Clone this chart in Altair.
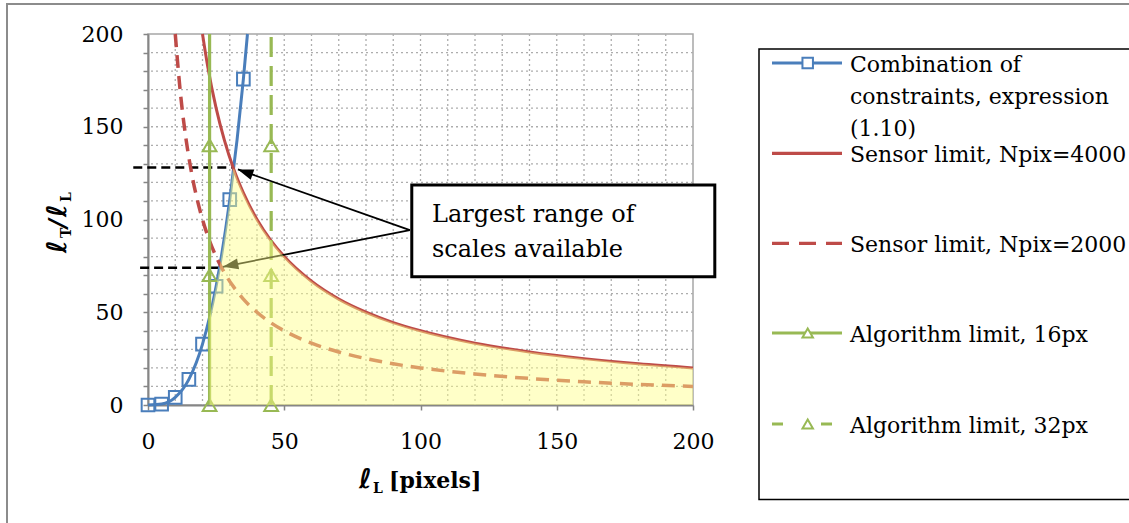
import math
import altair as alt
import pandas as pd

# ---- plot geometry (plot area in px, axis domains) ----
W, H = 545, 371
XMAX, YMAX = 200, 200
PAD = {"left": 148, "top": 34, "right": 436, "bottom": 118}

# ---- data ----
# Combination of constraints, expression (1.10)
comb_x = [0, 5, 10, 15, 20, 25, 30, 35, 36.5]
comb_y = [0, 0.5, 4.1, 13.8, 32.8, 64.0, 110.7, 175.7, 200]
comb_has_marker = [True, True, True, True, True, True, True, True, False]

# Sensor limit, Npix=4000
s4k_x = [20, 22, 25, 28, 31.4, 35, 40, 45, 50, 60, 70, 80, 90, 100, 120, 140, 160, 180, 200]
s4k_y = [200, 181.8, 160, 142.9, 127.3, 114.3, 100, 88.9, 80, 66.7, 57.1, 50, 44.4, 40,
         33.3, 28.6, 25, 22.2, 20]

# Sensor limit, Npix=2000
s2k_x = [10, 12, 14, 16, 18, 20, 22, 25, 28, 31, 35, 40, 45, 50, 60, 70, 80, 90, 100,
         120, 140, 160, 180, 200]
s2k_y = [200, 166.7, 142.9, 125, 111.1, 100, 90.9, 80, 71.4, 64.5, 57.1, 50, 44.4, 40,
         33.3, 28.6, 25, 22.2, 20, 16.7, 14.3, 12.5, 11.1, 10]

# Algorithm limits (vertical lines)
alg16_x = 22.6
alg32_x = 45.2
alg_line_y = [0, 200]
alg_marker_y = [0, 70, 140]

# Shaded region: largest usable range of scales
region_x = [22.6, 24, 26, 28, 30, 31.4, 33, 35, 38, 40, 45, 50, 60, 70, 80, 90, 100,
            120, 140, 160, 180, 200]
region_y = [47.3, 56.7, 72.0, 90.0, 110.7, 127.3, 121.2, 114.3, 105.3, 100, 88.9, 80,
            66.7, 57.1, 50, 44.4, 40, 33.3, 28.6, 25, 22.2, 20]

# Dashed markers of the range limits
range_y = [128, 74]
range_x_from = [-5.4, -2.9]
range_x_to = [31.4, 26.4]

# Annotation box and arrows
box = dict(x=96.8, x2=208, y=69.2, y2=118.6)
box_text = "Largest range of\nscales available"
box_text_pos = (104.2, 98.8)
arrow_start = (96.1, 94.3)
arrow_tips = [(33.0, 127.0), (27.5, 74.5)]

# Tick values
x_ticks = [0, 50, 100, 150, 200]
y_ticks = list(range(0, 201, 10))
grid_vals = list(range(10, 200, 10))

# ---- style ----
BLUE, RED, GREEN = "#4A7EBB", "#BE4B48", "#98B954"
GRID = "#ADADAD"
AXIS_GREY = "#868686"
SERIF = "DejaVu Serif"
SCRIPT = "DejaVu Sans"

xs = alt.Scale(domain=[0, XMAX], nice=False, zero=False)
ys = alt.Scale(domain=[0, YMAX], nice=False, zero=False)
xaxis = alt.Axis(values=x_ticks, title=None, grid=False, domainColor=AXIS_GREY,
                 domainWidth=2, tickColor=AXIS_GREY, tickWidth=1.5, tickSize=5,
                 labelFont=SERIF, labelFontSize=22, labelColor="black",
                 labelPadding=21, labelFlush=False, labelOverlap=False)
yaxis = alt.Axis(values=y_ticks, title=None, grid=False, domainColor=AXIS_GREY,
                 domainWidth=2, tickColor=AXIS_GREY, tickWidth=1.5, tickSize=5,
                 labelFont=SERIF, labelFontSize=22, labelColor="black",
                 labelPadding=20, labelOverlap=False,
                 labelExpr="datum.value % 50 === 0 ? datum.label : ''")


def X(field="x"):
    return alt.X(f"{field}:Q", scale=xs, axis=xaxis)


def Y(field="y"):
    return alt.Y(f"{field}:Q", scale=ys, axis=yaxis)


def px_x(v):
    return v * W / XMAX


def px_y(v):
    return (YMAX - v) * H / YMAX


ONE = pd.DataFrame({"k": [0]})

layers = []

# grid
layers.append(alt.Chart(pd.DataFrame({"x": grid_vals})).mark_rule(
    color=GRID, strokeWidth=1.3, strokeDash=[2, 3]).encode(x=X()))
layers.append(alt.Chart(pd.DataFrame({"y": grid_vals})).mark_rule(
    color=GRID, strokeWidth=1.3, strokeDash=[2, 3]).encode(y=Y()))

# dashed range markers
rng = pd.DataFrame({"x": range_x_from, "x2": range_x_to, "y": range_y})
layers.append(alt.Chart(rng).mark_rule(color="black", strokeWidth=2.5,
                                       strokeDash=[9, 5]).encode(
    x=X(), x2="x2:Q", y=Y()))

# series
comb = pd.DataFrame({"x": comb_x, "y": comb_y, "m": comb_has_marker})
layers.append(alt.Chart(comb).mark_line(color=BLUE, strokeWidth=3,
                                        interpolate="monotone").encode(x=X(), y=Y()))
layers.append(alt.Chart(comb).transform_filter("datum.m").mark_point(
    shape="square", size=160, filled=False, color=BLUE, strokeWidth=2, opacity=1
).encode(x=X(), y=Y()))

s4k = pd.DataFrame({"x": s4k_x, "y": s4k_y})
layers.append(alt.Chart(s4k).mark_line(color=RED, strokeWidth=3,
                                       interpolate="monotone").encode(x=X(), y=Y()))

s2k = pd.DataFrame({"x": s2k_x, "y": s2k_y})
layers.append(alt.Chart(s2k).mark_line(color=RED, strokeWidth=3.5, strokeDash=[13, 8],
                                       interpolate="monotone").encode(x=X(), y=Y()))

for xv, dash in ((alg16_x, None), (alg32_x, [20, 9])):
    ln = pd.DataFrame({"x": [xv] * len(alg_line_y), "y": alg_line_y})
    kw = dict(color=GREEN, strokeWidth=3.2)
    if dash:
        kw["strokeDash"] = dash
    layers.append(alt.Chart(ln).mark_line(**kw).encode(x=X(), y=Y()))
    mk = pd.DataFrame({"x": [xv] * len(alg_marker_y), "y": alg_marker_y})
    layers.append(alt.Chart(mk).mark_point(
        shape="triangle-up", size=190, filled=False, color=GREEN, strokeWidth=2,
        opacity=1).encode(x=X(), y=Y()))

# arrows
arr = pd.DataFrame({
    "x": [arrow_start[0]] * 2, "y": [arrow_start[1]] * 2,
    "x2": [t[0] for t in arrow_tips], "y2": [t[1] for t in arrow_tips],
})
layers.append(alt.Chart(arr).mark_rule(color="black", strokeWidth=1.8).encode(
    x=X(), y=Y(), x2="x2:Q", y2="y2:Q"))
angles = []
for tx, ty in arrow_tips:
    dx = px_x(tx) - px_x(arrow_start[0])
    dy = px_y(ty) - px_y(arrow_start[1])
    angles.append(math.degrees(math.atan2(dx, -dy)) % 360)
heads = pd.DataFrame({"x": [t[0] for t in arrow_tips], "y": [t[1] for t in arrow_tips],
                      "a": angles})
layers.append(alt.Chart(heads).mark_point(
    shape="M0,0L-0.6,1.7L0.6,1.7Z", size=330, filled=True, color="black", opacity=1
).encode(x=X(), y=Y(), angle=alt.Angle("a:Q", scale=None)))

# shaded region, on top of the lines
reg = pd.DataFrame({"x": region_x, "y": region_y})
layers.append(alt.Chart(reg).mark_area(color="#FFFF88", opacity=0.46,
                                       interpolate="monotone").encode(x=X(), y=Y()))

# annotation box
layers.append(alt.Chart(pd.DataFrame([box])).mark_rect(
    fill="white", stroke="black", strokeWidth=3).encode(
    x=X(), x2="x2:Q", y=Y(), y2="y2:Q"))
layers.append(alt.Chart(pd.DataFrame({"x": [box_text_pos[0]], "y": [box_text_pos[1]],
                                      "t": [box_text]})).mark_text(
    font=SERIF, fontSize=24, align="left", baseline="alphabetic", lineBreak="\n",
    lineHeight=35, color="black").encode(x=X(), y=Y(), text="t:N"))

# ---- frame and legend (pixel positions relative to the plot origin) ----
layers.append(alt.Chart(ONE).mark_rect(fillOpacity=0, stroke="#8C8C8C", strokeWidth=2).encode(
    x=alt.value(-141), x2=alt.value(1000), y=alt.value(-30), y2=alt.value(600)))
layers.append(alt.Chart(ONE).mark_rect(fillOpacity=0, stroke="black", strokeWidth=1.5).encode(
    x=alt.value(611), x2=alt.value(1000), y=alt.value(15), y2=alt.value(465.5)))

legend_labels = ["Combination of\nconstraints, expression\n(1.10)",
                 "Sensor limit, Npix=4000", "Sensor limit, Npix=2000",
                 "Algorithm limit, 16px", "Algorithm limit, 32px"]
legend_colors = [BLUE, RED, RED, GREEN, GREEN]
legend_dash = [None, None, [17, 10], None, [11, 38]]
legend_shape = ["square", None, None, "triangle-up", "triangle-up"]
legend_rows = [29, 119.3, 209.3, 299, 390]
LX1, LX2, LXM, LXT = 624, 694, 659.7, 702

for lab, col, dash, shp, ry in zip(legend_labels, legend_colors, legend_dash,
                                   legend_shape, legend_rows):
    kw = dict(color=col, strokeWidth=3.2)
    if dash:
        kw["strokeDash"] = dash
    layers.append(alt.Chart(ONE).mark_rule(**kw).encode(
        x=alt.value(LX1), x2=alt.value(LX2), y=alt.value(ry)))
    if shp:
        layers.append(alt.Chart(ONE).mark_point(
            shape=shp, size=110, filled=False, color=col, strokeWidth=2, opacity=1,
            fill="white").encode(x=alt.value(LXM), y=alt.value(ry)))
    layers.append(alt.Chart(ONE).mark_text(
        text=lab, font=SERIF, fontSize=22, align="left", baseline="alphabetic",
        lineBreak="\n", lineHeight=32.3, color="black").encode(
        x=alt.value(LXT), y=alt.value(ry + 8.7)))


# axis titles (script l with subscripts)
def piece(txt, x, y, size, font=SERIF, italic=False, angle=0):
    kw = dict(text=txt, font=font, fontSize=size, fontWeight="bold", align="left",
              baseline="alphabetic", color="black")
    if italic:
        kw["fontStyle"] = "italic"
    if angle:
        kw["angle"] = angle
    return alt.Chart(ONE).mark_text(**kw).encode(x=alt.value(x), y=alt.value(y))


# x title: ℓL [pixels]
layers.append(piece("ℓ", 211, 454, 27, font=SCRIPT, italic=True))
layers.append(piece("L", 225, 459, 14))
layers.append(piece("[pixels]", 241, 454, 22))

# y title: ℓT/ℓL, rotated
layers.append(piece("ℓ", -82, 219, 27, font=SCRIPT, italic=True, angle=270))
layers.append(piece("T", -77, 204, 14, angle=270))
layers.append(piece("/", -82, 194, 24, italic=True, angle=270))
layers.append(piece("ℓ", -82, 183, 27, font=SCRIPT, italic=True, angle=270))
layers.append(piece("L", -77, 168, 14, angle=270))

chart = alt.layer(*layers).properties(
    width=W, height=H, padding=PAD,
    autosize=alt.AutoSizeParams(type="none"),
    background="white",
).configure_view(stroke="#A6A6A6", strokeWidth=1.5)

chart.save("out.html", embed_options={"renderer": "svg", "actions": False})
